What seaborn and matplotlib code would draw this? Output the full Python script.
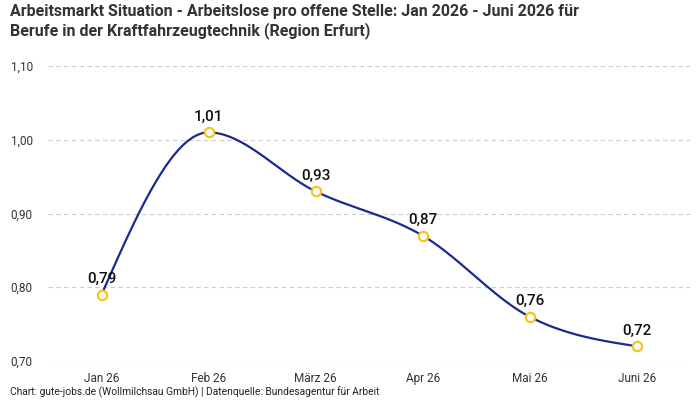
#!/usr/bin/env python3
"""
Arbeitsmarkt chart: Arbeitslose pro offene Stelle, Kraftfahrzeugtechnik Erfurt
"""

import numpy as np
import pandas as pd
import matplotlib.pyplot as plt
from matplotlib.ticker import FuncFormatter
import seaborn as sns

months = ['Jan 26', 'Feb 26', 'März 26', 'Apr 26', 'Mai 26', 'Juni 26']
values = [0.79, 1.01, 0.93, 0.87, 0.76, 0.72]
y_ticks = [0.70, 0.80, 0.90, 1.00, 1.10]

title = ('Arbeitsmarkt Situation - Arbeitslose pro offene Stelle: Jan 2026 - Juni 2026 für\n'
         'Berufe in der Kraftfahrzeugtechnik (Region Erfurt)')
footer = 'Chart: gute-jobs.de (Wollmilchsau GmbH) | Datenquelle: Bundesagentur für Arbeit'

LINE_COLOR = '#1b2a8f'
MARKER_EDGE = '#f7c325'

sns.set_style("white")
plt.rcParams['font.family'] = ['Roboto', 'DejaVu Sans']


def monotone_curve(x, y, n=40):
    """Monotone cubic (like d3 curveMonotoneX) for drawing the smooth line"""
    x = np.asarray(x, float)
    y = np.asarray(y, float)
    h = np.diff(x)
    s = np.diff(y) / h
    t = np.zeros_like(y)
    for i in range(1, len(y) - 1):
        p = (s[i - 1] * h[i] + s[i] * h[i - 1]) / (h[i - 1] + h[i])
        t[i] = (np.sign(s[i - 1]) + np.sign(s[i])) * min(abs(s[i - 1]), abs(s[i]), 0.5 * abs(p))
    t[0] = (3 * s[0] - t[1]) / 2
    t[-1] = (3 * s[-1] - t[-2]) / 2
    xs, ys = [], []
    for i in range(len(y) - 1):
        u = np.linspace(0, 1, n, endpoint=(i == len(y) - 2))
        h00 = 2 * u**3 - 3 * u**2 + 1
        h10 = u**3 - 2 * u**2 + u
        h01 = -2 * u**3 + 3 * u**2
        h11 = u**3 - u**2
        xs.append(x[i] + u * h[i])
        ys.append(h00 * y[i] + h10 * h[i] * t[i] + h01 * y[i + 1] + h11 * h[i] * t[i + 1])
    return np.concatenate(xs), np.concatenate(ys)


fig = plt.figure(figsize=(7, 4), dpi=100)
ax = fig.add_axes([0.0686, 0.0975, 0.9174, 0.7375])

pos = np.arange(len(months))
cx, cy = monotone_curve(pos, values)
curve = pd.DataFrame({'x': cx, 'y': cy})
points = pd.DataFrame({'x': pos, 'y': values})

sns.lineplot(data=curve, x='x', y='y', ax=ax, color=LINE_COLOR, linewidth=1.6,
             estimator=None, sort=False, zorder=3)
sns.scatterplot(data=points, x='x', y='y', ax=ax, s=45, color='white',
                edgecolor=MARKER_EDGE, linewidth=1.6, zorder=4)

for xi, v in zip(pos, values):
    ax.annotate(f'{v:.2f}'.replace('.', ','), (xi, v), xytext=(0, 6),
                textcoords='offset points', ha='center', va='bottom',
                fontsize=11, fontweight='medium', color='#111111')

ax.set_xlim(-0.5, len(months) - 0.5)
ax.set_ylim(0.70, 1.10)
ax.set_xticks(pos)
ax.set_xticklabels(months)
ax.set_yticks(y_ticks)
ax.yaxis.set_major_formatter(FuncFormatter(lambda v, _: f'{v:.2f}'.replace('.', ',')))
ax.tick_params(axis='both', length=0, labelsize=8.5, colors='#333333')
ax.tick_params(axis='y', pad=11)
ax.tick_params(axis='x', pad=8)
ax.set_xlabel('')
ax.set_ylabel('')
ax.grid(axis='y', color='#cccccc', linestyle=(0, (4, 3)), linewidth=0.8)
ax.grid(axis='x', visible=False)
for sp in ax.spines.values():
    sp.set_visible(False)

fig.text(0.014, 0.99, title, ha='left', va='top', fontsize=11.5,
         fontweight='bold', color='#333333', linespacing=1.25)
fig.text(0.014, 0.006, footer, ha='left', va='bottom', fontsize=7.4, color='#222222')

plt.savefig('out.png', dpi=100)
plt.close()
